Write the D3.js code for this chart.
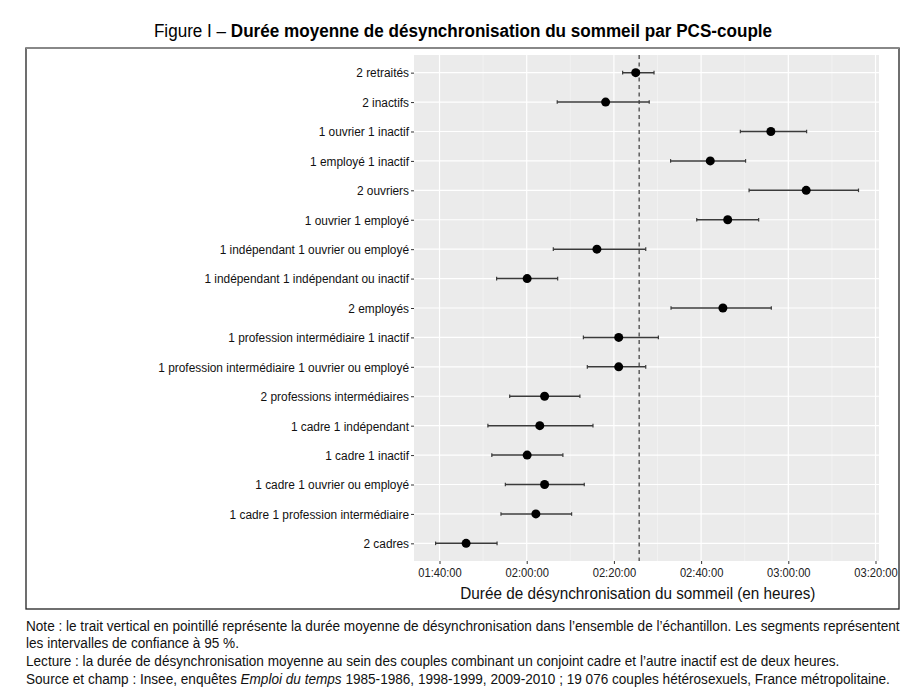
<!DOCTYPE html>
<html><head><meta charset="utf-8">
<script src="https://cdn.jsdelivr.net/npm/d3@7"></script>
<style>
body{margin:0;background:#fff;}
svg text{font-family:"Liberation Sans Narrow","Arial Narrow","Liberation Sans",Arial,sans-serif;}
</style></head>
<body>
<svg id="chart" width="920" height="700"></svg>
<script>
// Categories (top to bottom)
const categories = [
  "2 retraités","2 inactifs","1 ouvrier 1 inactif","1 employé 1 inactif","2 ouvriers",
  "1 ouvrier 1 employé","1 indépendant 1 ouvrier ou employé","1 indépendant 1 indépendant ou inactif",
  "2 employés","1 profession intermédiaire 1 inactif","1 profession intermédiaire 1 ouvrier ou employé",
  "2 professions intermédiaires","1 cadre 1 indépendant","1 cadre 1 inactif",
  "1 cadre 1 ouvrier ou employé","1 cadre 1 profession intermédiaire","2 cadres"
];
// Mean duration in minutes
const means = [145.0,138.1,176.0,162.1,184.1,166.1,136.1,120.1,165.0,141.1,141.1,124.1,123.0,120.1,124.1,122.1,106.1];
// 95% CI lower / upper bounds (minutes)
const lower = [142.0,127.0,169.0,153.0,171.0,159.0,126.1,113.1,153.1,133.0,133.9,116.1,111.1,112.0,115.1,114.1,99.1];
const upper = [149.2,148.1,184.2,170.2,196.1,173.2,147.3,127.1,176.1,150.2,147.3,132.2,135.2,128.3,133.2,130.3,113.2];
const overallMean = 145.8;
const xTicks = [100,120,140,160,180,200];
const xMinor = [110,130,150,170,190];
const xDomain = [94.15, 200.8];

const svg = d3.select("#chart");
const P = {left:414, right:879, top:55, bottom:561};

// horizontal condensing (narrow font not installed)
function condense(sel, f){
  sel.each(function(){
    const t = d3.select(this);
    const x0 = +t.attr("x") || 0;
    const prev = t.attr("transform") || "";
    t.attr("transform", `${prev} translate(${x0},0) scale(${f},1) translate(${-x0},0)`);
  });
}

// title
const title = svg.append("text").attr("x",463).attr("y",37).attr("text-anchor","middle")
  .attr("font-size",19).attr("fill","#000");
title.append("tspan").text("Figure I – ");
title.append("tspan").attr("font-weight","bold").text("Durée moyenne de désynchronisation du sommeil par PCS-couple");
condense(title, 0.9);

// frame
svg.append("rect").attr("x",26).attr("y",48).attr("width",873).attr("height",561)
  .attr("fill","none").attr("stroke","#222").attr("stroke-width",1.3);
svg.append("line").attr("x1",26).attr("x2",899).attr("y1",48).attr("y2",48).attr("stroke","#888").attr("stroke-width",2);

const x = d3.scaleLinear().domain(xDomain).range([P.left,P.right]);
const y = d3.scalePoint().domain(categories).range([P.top,P.bottom]).padding(0.6);

svg.append("rect").attr("x",P.left).attr("y",P.top).attr("width",P.right-P.left).attr("height",P.bottom-P.top).attr("fill","#ebebeb");

const g = svg.append("g");
g.selectAll(".minor").data(xMinor).join("line")
  .attr("x1",d=>x(d)).attr("x2",d=>x(d)).attr("y1",P.top).attr("y2",P.bottom)
  .attr("stroke","#f7f7f7").attr("stroke-width",0.6);
g.selectAll(".major").data(xTicks).join("line")
  .attr("x1",d=>x(d)).attr("x2",d=>x(d)).attr("y1",P.top).attr("y2",P.bottom)
  .attr("stroke","#fff").attr("stroke-width",1.2);
g.selectAll(".hgrid").data(categories).join("line")
  .attr("x1",P.left).attr("x2",P.right).attr("y1",d=>y(d)).attr("y2",d=>y(d))
  .attr("stroke","#fff").attr("stroke-width",1.2);

// dashed mean line
svg.append("line").attr("x1",x(overallMean)).attr("x2",x(overallMean)).attr("y1",P.top).attr("y2",P.bottom)
  .attr("stroke","#666").attr("stroke-width",1.6).attr("stroke-dasharray","4,3.5");

const fmt = m => { const h=Math.floor(m/60), mm=Math.round(m%60); return String(h).padStart(2,"0")+":"+String(mm).padStart(2,"0")+":00"; };

// x axis
const xa = svg.append("g").attr("transform",`translate(0,${P.bottom})`)
  .call(d3.axisBottom(x).tickValues(xTicks).tickFormat(fmt).tickSize(3).tickPadding(4));
xa.select(".domain").remove();
xa.selectAll(".tick line").attr("stroke","#333");
xa.selectAll("text").attr("font-size",13).attr("fill","#222").attr("font-family",null);
condense(xa.selectAll("text"), 0.86);

// y axis
const ya = svg.append("g").attr("transform",`translate(${P.left},0)`)
  .call(d3.axisLeft(y).tickSize(3).tickPadding(2));
ya.select(".domain").remove();
ya.selectAll(".tick line").attr("stroke","#333");
ya.selectAll("text").attr("font-size",13.5).attr("fill","#111").attr("font-family",null);
condense(ya.selectAll("text"), 0.88);

// x title
const xt = svg.append("text").attr("x",x(145.5)).attr("y",599).attr("text-anchor","middle").attr("font-size",17).attr("fill","#111")
  .text("Durée de désynchronisation du sommeil (en heures)");
condense(xt, 0.9);

// error bars
const rows = categories.map((c,i)=>({c, m:means[i], lo:lower[i], hi:upper[i]}));
const eb = svg.append("g");
eb.selectAll(".bar").data(rows).join("line")
  .attr("x1",d=>x(d.lo)).attr("x2",d=>x(d.hi)).attr("y1",d=>y(d.c)).attr("y2",d=>y(d.c))
  .attr("stroke","#3a3a3a").attr("stroke-width",1.5);
eb.selectAll(".capl").data(rows).join("line")
  .attr("x1",d=>x(d.lo)).attr("x2",d=>x(d.lo)).attr("y1",d=>y(d.c)-1.8).attr("y2",d=>y(d.c)+1.8)
  .attr("stroke","#3a3a3a").attr("stroke-width",1.2);
eb.selectAll(".capr").data(rows).join("line")
  .attr("x1",d=>x(d.hi)).attr("x2",d=>x(d.hi)).attr("y1",d=>y(d.c)-1.8).attr("y2",d=>y(d.c)+1.8)
  .attr("stroke","#3a3a3a").attr("stroke-width",1.2);
eb.selectAll("circle").data(rows).join("circle")
  .attr("cx",d=>x(d.m)).attr("cy",d=>y(d.c)).attr("r",4.5).attr("fill","#000");

// notes
const notes = [
  [{t:"Note : le trait vertical en pointillé représente la durée moyenne de désynchronisation dans l’ensemble de l’échantillon. Les segments représentent"}],
  [{t:"les intervalles de confiance à 95 %."}],
  [{t:"Lecture : la durée de désynchronisation moyenne au sein des couples combinant un conjoint cadre et l’autre inactif est de deux heures."}],
  [{t:"Source et champ : Insee, enquêtes "},{t:"Emploi du temps",i:true},{t:" 1985-1986, 1998-1999, 2009-2010 ; 19 076 couples hétérosexuels, France métropolitaine."}]
];
const noteY = [631,648,666,684];
notes.forEach((parts,k)=>{
  const t = svg.append("text").attr("x",26).attr("y",noteY[k]).attr("font-size",15).attr("fill","#111");
  parts.forEach(p=>{ const s=t.append("tspan").text(p.t); if(p.i) s.attr("font-style","italic"); });
  condense(t, 0.907);
});
</script>
</body></html>
